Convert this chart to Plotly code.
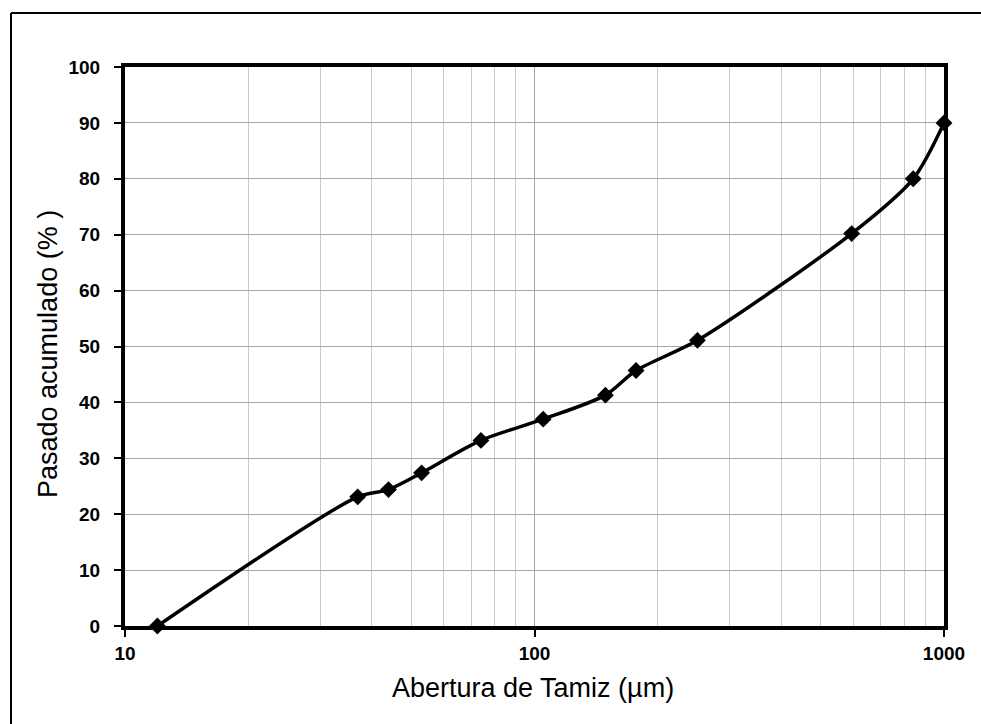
import plotly.graph_objects as go

# Data
abertura_um = [12, 37, 44, 53, 74, 105, 149, 177, 250, 595, 841, 1000]
pasado_pct = [0, 23.1, 24.4, 27.4, 33.2, 37.0, 41.3, 45.7, 51.1, 70.2, 80.0, 90.0]

x_major = [10, 100, 1000]
x_minor = [20, 30, 40, 50, 60, 70, 80, 90, 200, 300, 400, 500, 600, 700, 800, 900]
y_ticks = [0, 10, 20, 30, 40, 50, 60, 70, 80, 90, 100]

W, H = 981, 724
L, R, T, B = 125, 37, 67, 98

fig = go.Figure()
fig.add_trace(go.Scatter(
    x=abertura_um, y=pasado_pct, mode="lines+markers",
    line=dict(color="black", width=3.5, shape="spline", smoothing=0.8),
    marker=dict(symbol="diamond", size=13, color="black"),
    showlegend=False, cliponaxis=False,
))

tick_font = dict(family="Liberation Sans, Arial", size=19, color="black", weight="bold")
title_font = dict(family="Liberation Sans, Arial", size=27, color="black")

fig.update_xaxes(
    type="log", range=[1, 3],
    tickvals=x_major, ticktext=[str(v) for v in x_major],
    showgrid=True, gridcolor="#a6a6a6", gridwidth=1.2,
    minor=dict(tickvals=x_minor, showgrid=True, gridcolor="#c8c8c8", gridwidth=1.2, ticks=""),
    showline=True, linecolor="black", linewidth=4, mirror=True,
    ticks="outside", ticklen=7, tickwidth=2, tickcolor="black",
    tickfont=tick_font, zeroline=False,
)
fig.update_yaxes(
    range=[0, 100], tickvals=y_ticks,
    showgrid=True, gridcolor="#a6a6a6", gridwidth=1.2,
    showline=True, linecolor="black", linewidth=4, mirror=True,
    ticks="outside", ticklen=7, tickwidth=2, tickcolor="black",
    tickfont=tick_font, zeroline=False, ticklabelstandoff=10,
)

pw = W - L - R
ph = H - T - B
fig.add_annotation(
    text="Abertura de Tamiz (µm)",
    xref="paper", yref="paper",
    x=(533 - L) / pw, y=(H - B - 688) / ph,
    showarrow=False, xanchor="center", yanchor="middle",
    font=title_font,
)
fig.add_annotation(
    text="Pasado acumulado (% )", textangle=-90,
    xref="paper", yref="paper",
    x=(48 - L) / pw, y=(H - B - 354) / ph,
    showarrow=False, xanchor="center", yanchor="middle",
    font=title_font,
)
# outer frame (left and top edges visible)
fig.add_shape(
    type="line", xref="paper", yref="paper",
    x0=(11 - L) / pw, x1=(11 - L) / pw,
    y0=(H - B - (H + 10)) / ph, y1=(H - B - 13) / ph,
    line=dict(color="black", width=2), layer="below",
)
fig.add_shape(
    type="line", xref="paper", yref="paper",
    x0=(11 - L) / pw, x1=(W + 10 - L) / pw,
    y0=(H - B - 13) / ph, y1=(H - B - 13) / ph,
    line=dict(color="black", width=2), layer="below",
)

fig.update_layout(
    width=W, height=H,
    margin=dict(l=L, r=R, t=T, b=B),
    paper_bgcolor="white", plot_bgcolor="white",
)

fig.write_html("out.html")
